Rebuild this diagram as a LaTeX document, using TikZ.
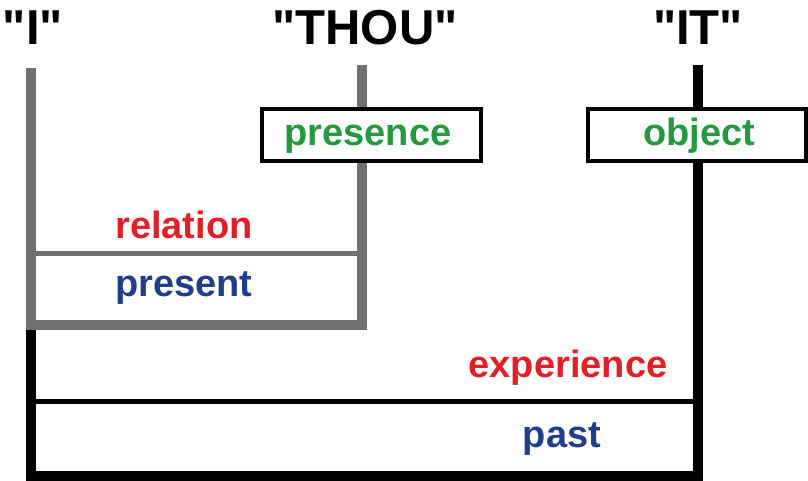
\documentclass[tikz,border=0pt]{standalone}
\usepackage{fontspec}
\setmainfont{Liberation Sans}
\definecolor{wordred}{RGB}{226,30,38}
\definecolor{wordblue}{RGB}{32,62,140}
\definecolor{wordgreen}{RGB}{38,152,62}
\definecolor{bargray}{RGB}{112,112,112}
\newcommand{\dq}{\textquotedbl}
\begin{document}
\begin{tikzpicture}[x=1pt, y=-1pt,
    title/.style={anchor=base, font=\fontsize{49}{49}\selectfont\bfseries},
    word/.style={anchor=base, font=\fontsize{38}{38}\selectfont\bfseries},
    tagbox/.style={rectangle, draw, line width=4pt, fill=white, minimum height=52pt, inner sep=0pt},
    blackbar/.style={line width=10pt, draw=black, line join=miter},
    graybar/.style={line width=10pt, draw=bargray, line join=miter}
]
\useasboundingbox (0,0) rectangle (808,481);

% Corner points
\coordinate (itop) at (31,68);
\coordinate (icorner) at (31,325);
\coordinate (ibottom) at (31,476);
\coordinate (ttop) at (362,65);
\coordinate (tcorner) at (362,325);
\coordinate (ttie) at (362,253);
\coordinate (itie) at (31,253);
\coordinate (ottop) at (698,65);
\coordinate (otbottom) at (698,476);
\coordinate (ottie) at (698,401);
\coordinate (ptie) at (31,401);

% Bars
\draw[blackbar] (icorner) -- (ibottom) -- (otbottom) -- (ottop);
\draw[line width=5pt] (ptie) -- (ottie);
\draw[graybar] (itop) -- (icorner) -- (tcorner) -- (ttop);
\draw[line width=5pt, draw=bargray] (itie) -- (ttie);

% Titles
\node[title] (i) at (33,45) {\dq I\dq};
\node[title] (thou) at (365,45) {\dq THOU\dq};
\node[title] (it) at (698,45) {\dq IT\dq};

% Boxes
\node[tagbox, minimum width=219pt] (presencebox) at (371.5,135) {};
\node[tagbox, minimum width=218pt] (objectbox) at (697,135) {};
\node[word, text=wordgreen] (presence) at (368,146) {presence};
\node[word, text=wordgreen] (object) at (699,146) {object};

% Words
\node[word, text=wordred] (relation) at (184,238) {relation};
\node[word, text=wordblue] (present) at (184,296) {present};
\node[word, text=wordred] (experience) at (568,377) {experience};
\node[word, text=wordblue] (past) at (562,447) {past};

\end{tikzpicture}
\end{document}
